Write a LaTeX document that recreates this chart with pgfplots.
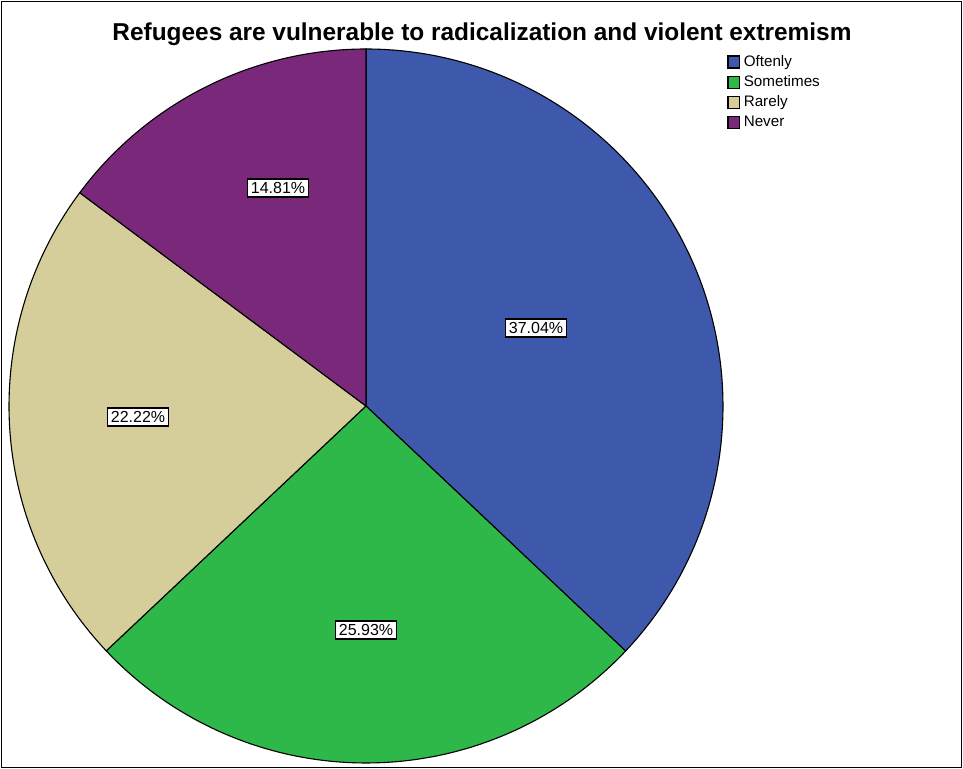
\documentclass[border=0pt]{standalone}
\usepackage{pgfplots}
\pgfplotsset{compat=1.18}
\usepackage{fontspec}
\setmainfont{Liberation Sans}
\definecolor{cOft}{RGB}{62,88,172}
\definecolor{cSom}{RGB}{46,184,74}
\definecolor{cRar}{RGB}{213,206,155}
\definecolor{cNev}{RGB}{122,40,122}
% percentages
\def\vA{37.04}\def\vB{25.93}\def\vC{22.22}\def\vD{14.81}
\pgfmathsetmacro\aA{90}
\pgfmathsetmacro\aB{\aA-3.6*\vA}
\pgfmathsetmacro\aC{\aB-3.6*\vB}
\pgfmathsetmacro\aD{\aC-3.6*\vC}
\pgfmathsetmacro\aE{\aD-3.6*\vD}
\def\cx{366}\def\cy{363}\def\R{357}
\begin{document}
\begin{tikzpicture}
\begin{axis}[
  scale only axis, width=481.5pt, height=384.5pt,
  xmin=0, xmax=963, ymin=0, ymax=769,
  axis lines=none, clip=false,
  legend style={at={(axis cs:727,718)}, anchor=north west, draw=none, fill=none,
    font=\fontsize{7.6}{9}\selectfont, inner sep=0pt, row sep=-0.9pt,
    /tikz/every even column/.append style={column sep=0pt}},
  legend cell align=left,
  legend image code/.code={\draw[#1, draw=black, line width=0.6pt] (0pt,-2.8pt) rectangle (5.6pt,3.2pt);},
]
\path (axis cs:0,0) rectangle (axis cs:963,769);
\draw[line width=0.7pt] (axis cs:1.5,1.5) rectangle (axis cs:961.5,767.5);
\addplot[fill=cOft, draw=black, line width=0.55pt, domain=\aA:\aB, samples=120, variable=\t]
  ({\cx+\R*cos(\t)},{\cy+\R*sin(\t)}) -- (axis cs:\cx,\cy) -- cycle;
\addlegendentry{Oftenly}
\addplot[fill=cSom, draw=black, line width=0.55pt, domain=\aB:\aC, samples=90, variable=\t]
  ({\cx+\R*cos(\t)},{\cy+\R*sin(\t)}) -- (axis cs:\cx,\cy) -- cycle;
\addlegendentry{Sometimes}
\addplot[fill=cRar, draw=black, line width=0.55pt, domain=\aC:\aD, samples=80, variable=\t]
  ({\cx+\R*cos(\t)},{\cy+\R*sin(\t)}) -- (axis cs:\cx,\cy) -- cycle;
\addlegendentry{Rarely}
\addplot[fill=cNev, draw=black, line width=0.55pt, domain=\aD:\aE, samples=60, variable=\t]
  ({\cx+\R*cos(\t)},{\cy+\R*sin(\t)}) -- (axis cs:\cx,\cy) -- cycle;
\addlegendentry{Never}
\tikzset{lab/.style={draw=black, fill=white, line width=0.7pt, inner sep=1.6pt, font=\fontsize{8}{9}\selectfont}}
\node[lab] at (axis cs:536,441) {37.04\%};
\node[lab] at (axis cs:366,139) {25.93\%};
\node[lab] at (axis cs:138,352) {22.22\%};
\node[lab] at (axis cs:278,581) {14.81\%};
\node[font=\bfseries\fontsize{12.2}{14}\selectfont] at (axis cs:482,735) {Refugees are vulnerable to radicalization and violent extremism};
\end{axis}
\end{tikzpicture}
\end{document}
